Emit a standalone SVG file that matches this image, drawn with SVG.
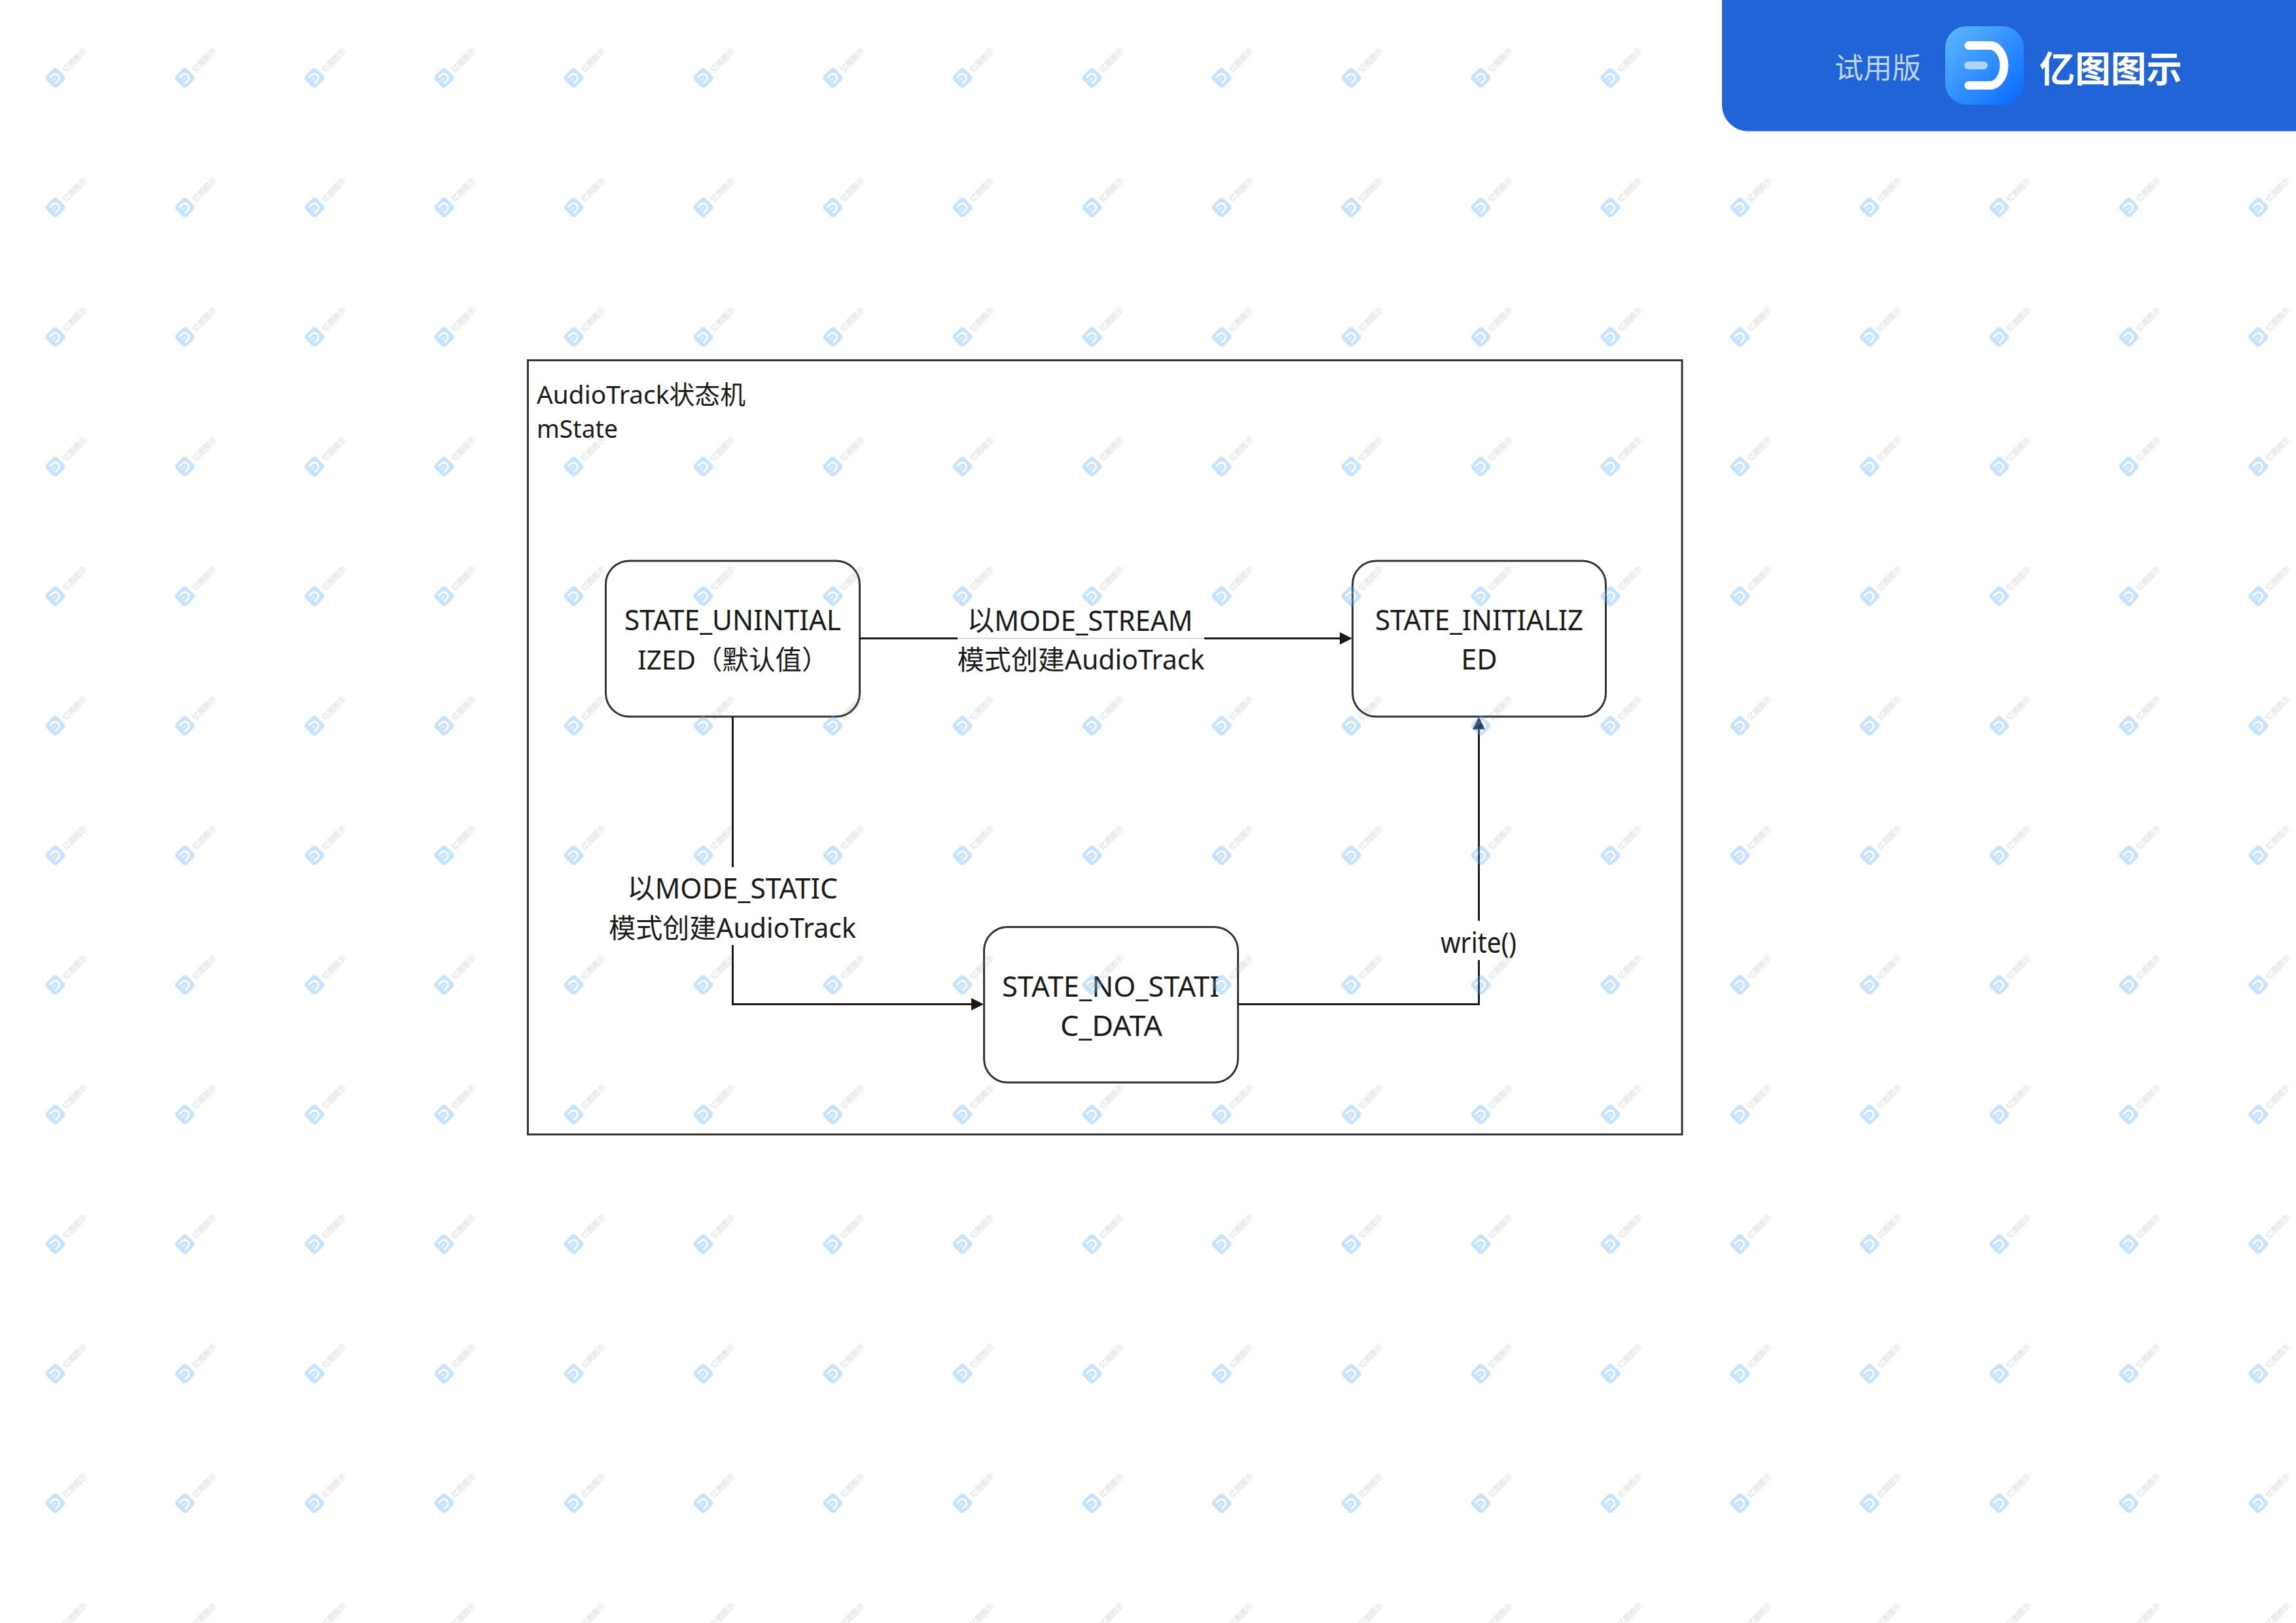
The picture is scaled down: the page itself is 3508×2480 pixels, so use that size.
<svg xmlns="http://www.w3.org/2000/svg" width="3508" height="2480" viewBox="0 0 3508 2480">
<style>
.t{font-family:"Noto Sans","Noto Sans CJK SC",sans-serif;fill:#1a1a1a}
.n{font-size:43px;text-anchor:middle}
.m{font-size:41px;text-anchor:middle}
.node{fill:#fff;stroke:#333;stroke-width:3}
.c{fill:none;stroke:#1a1a1a;stroke-width:3}
.wt{font-family:"Noto Sans CJK SC",sans-serif;font-size:11.5px;text-anchor:middle;fill:#808080;opacity:.32}
</style>
<defs>
<marker id="ah" markerUnits="userSpaceOnUse" markerWidth="20" markerHeight="20" refX="0" refY="10" orient="auto"><path d="M0,0.5L19,10L0,19.5Z" fill="#1a1a1a"/></marker>
<linearGradient id="lg" x1="0" y1="0" x2="1" y2="1"><stop offset="0" stop-color="#5fb8ff"/><stop offset="1" stop-color="#0668ff"/></linearGradient>
<mask id="hole" maskUnits="userSpaceOnUse" x="-20" y="-20" width="40" height="40">
<rect x="-20" y="-20" width="40" height="40" fill="#fff"/>
<path d="M-5,-6.2H0A6,6.2 0 0 1 0,6.2H-5" fill="none" stroke="#000" stroke-width="2.7" stroke-linecap="round"/>
<rect x="-6.4" y="-1.2" width="7.5" height="2.4" rx="1.2" fill="#777"/>
</mask>
<g id="wm" transform="rotate(-45)">
<rect x="-12" y="-12" width="24" height="24" rx="5" fill="#5bb0ff" opacity=".35" mask="url(#hole)"/>
<path d="M-5,-6.2H0A6,6.2 0 0 1 0,6.2H-5" fill="none" stroke="#fff" stroke-width="2.7" stroke-linecap="round" opacity=".3"/>
<text class="wt" x="40" y="6">亿图图示</text>
</g>
</defs>
<rect width="3508" height="2480" fill="#fff"/>
<g id="frame">
<rect x="806.5" y="550.5" width="1763.5" height="1183" fill="#fff" stroke="#333" stroke-width="3"/>
<text class="t" font-size="39" x="820" y="617" textLength="319" lengthAdjust="spacingAndGlyphs">AudioTrack状态机</text>
<text class="t" font-size="39" x="820" y="669" textLength="124" lengthAdjust="spacingAndGlyphs">mState</text>
</g>
<g id="node-uninitialized">
<rect class="node" x="925.5" y="857" width="388" height="238" rx="36"/>
<text class="t n" x="1119.5" y="963" textLength="331" lengthAdjust="spacingAndGlyphs">STATE_UNINTIAL</text>
<text class="t" font-size="40.5" x="974" y="1023">IZED（默认值）</text>
</g>
<g id="node-initialized">
<rect class="node" x="2066.5" y="857" width="387" height="238" rx="36"/>
<text class="t n" x="2260" y="963" textLength="318" lengthAdjust="spacingAndGlyphs">STATE_INITIALIZ</text>
<text class="t n" x="2260" y="1023">ED</text>
</g>
<g id="node-no-static">
<rect class="node" x="1503.5" y="1416.5" width="388" height="237.5" rx="36"/>
<text class="t n" x="1697" y="1523" textLength="332" lengthAdjust="spacingAndGlyphs">STATE_NO_STATI</text>
<text class="t n" x="1698" y="1583" textLength="156" lengthAdjust="spacingAndGlyphs">C_DATA</text>
</g>
<g id="connectors">
<path class="c" d="M1313.5,975.5H1463"/>
<path d="M1463,975.5H1840" fill="none" stroke="#ccc" stroke-width="1.5"/>
<path class="c" d="M1840,975.5H2047" marker-end="url(#ah)"/>
<path class="c" d="M1119.5,1095V1325"/>
<path class="c" d="M1119.5,1444V1534.5H1484" marker-end="url(#ah)"/>
<path class="c" d="M1891.5,1534.5H2259.5V1467"/>
<path class="c" d="M2259.5,1407V1114.5" marker-end="url(#ah)"/>
<text class="t n" x="1650" y="964" textLength="345" lengthAdjust="spacingAndGlyphs">以MODE_STREAM</text>
<text class="t m" x="1651.5" y="1023">模式创建AudioTrack</text>
<text class="t n" x="1119" y="1373" textLength="322" lengthAdjust="spacingAndGlyphs">以MODE_STATIC</text>
<text class="t m" x="1119" y="1433">模式创建AudioTrack</text>
<text class="t n" x="2259" y="1456" textLength="116" lengthAdjust="spacingAndGlyphs">write()</text>
</g>
<g id="watermarks" transform="translate(0.5,0)">
<use href="#wm" x="84" y="119"/><use href="#wm" x="282" y="119"/><use href="#wm" x="480" y="119"/><use href="#wm" x="678" y="119"/><use href="#wm" x="876" y="119"/><use href="#wm" x="1074" y="119"/><use href="#wm" x="1272" y="119"/><use href="#wm" x="1470" y="119"/><use href="#wm" x="1668" y="119"/><use href="#wm" x="1866" y="119"/><use href="#wm" x="2064" y="119"/><use href="#wm" x="2262" y="119"/><use href="#wm" x="2460" y="119"/>
<g id="wm-row"><use href="#wm" x="84" y="317"/><use href="#wm" x="282" y="317"/><use href="#wm" x="480" y="317"/><use href="#wm" x="678" y="317"/><use href="#wm" x="876" y="317"/><use href="#wm" x="1074" y="317"/><use href="#wm" x="1272" y="317"/><use href="#wm" x="1470" y="317"/><use href="#wm" x="1668" y="317"/><use href="#wm" x="1866" y="317"/><use href="#wm" x="2064" y="317"/><use href="#wm" x="2262" y="317"/><use href="#wm" x="2460" y="317"/><use href="#wm" x="2658" y="317"/><use href="#wm" x="2856" y="317"/><use href="#wm" x="3054" y="317"/><use href="#wm" x="3252" y="317"/><use href="#wm" x="3450" y="317"/></g>
<use href="#wm-row" y="198"/><use href="#wm-row" y="396"/><use href="#wm-row" y="594"/><use href="#wm-row" y="792"/><use href="#wm-row" y="990"/><use href="#wm-row" y="1188"/><use href="#wm-row" y="1386"/><use href="#wm-row" y="1584"/><use href="#wm-row" y="1782"/><use href="#wm-row" y="1980"/><use href="#wm-row" y="2178"/>
</g>
<g id="banner">
<path d="M2631,0H3508V200.500H2671A40,40 0 0 1 2631,160Z" fill="#2064d8"/>
<text x="2803" y="120" font-family="Noto Sans CJK SC,sans-serif" font-size="44" fill="#bcd3f3">试用版</text>
<rect x="2972" y="40" width="120" height="120" rx="33" fill="url(#lg)"/>
<path d="M3008,69.5H3040A22,30.5 0 0 1 3040,130.5H3008" fill="none" stroke="#fff" stroke-width="13" stroke-linecap="round"/>
<rect x="3001" y="94" width="36" height="12" rx="6" fill="#acd4ff"/>
<text x="3116" y="125" font-family="Noto Sans CJK SC,sans-serif" font-size="54.500" font-weight="700" fill="#fff">亿图图示</text>
</g>
</svg>
